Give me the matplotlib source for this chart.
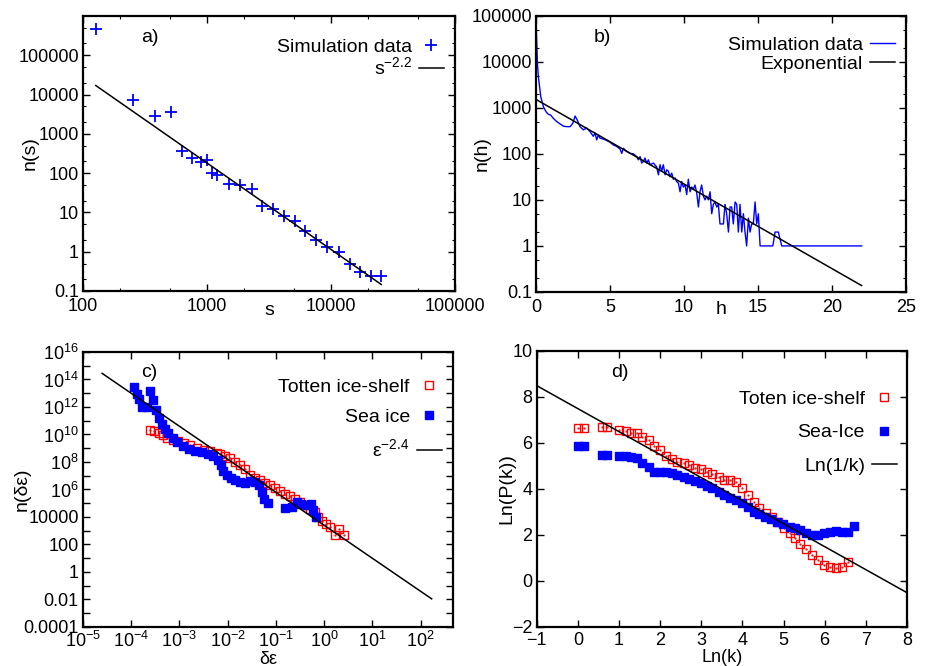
import numpy as np
import matplotlib
matplotlib.use("Agg")
import matplotlib.pyplot as plt
from matplotlib.ticker import LogLocator, FixedLocator, NullFormatter, FixedFormatter, MultipleLocator

plt.rcParams['font.family'] = ['Liberation Sans', 'DejaVu Sans']
plt.rcParams['mathtext.default'] = 'regular'
plt.rcParams['font.size'] = 13

# ---------------- Panel a data ----------------
a_s = [127, 254, 378, 508, 624, 760, 889, 1000, 1105, 1213, 1507, 1850, 2297, 2768,
       3385, 4155, 5100, 6200, 7600, 9300, 11500, 14100, 17000, 21000, 25300]
a_n = [457000, 7330, 2770, 3700, 365, 245, 190, 222, 102, 90, 53, 50, 39, 14.7,
       12, 8.3, 6.2, 3.3, 2.0, 1.3, 0.96, 0.49, 0.30, 0.24, 0.24]
a_fit_coef = 7.2e8
a_fit_exp = -2.2
a_fit_range = (127, 25400)

# ---------------- Panel b data ----------------
b_h = [0.0, 0.05, 0.09, 0.16, 0.32, 0.50, 0.68, 0.83, 0.99, 1.17, 1.40, 1.62, 1.85, 2.07,
       2.30, 2.48, 2.64, 2.79, 2.97, 3.20, 3.42, 3.65, 3.87, 3.99, 4.10, 4.21, 4.32, 4.55,
       4.77, 5.00, 5.23, 5.45, 5.68, 5.79, 5.90, 6.13, 6.35, 6.58, 6.80, 6.91, 7.03, 7.14,
       7.25, 7.36, 7.48, 7.59, 7.70, 7.93, 8.15, 8.27, 8.38, 8.49, 8.60, 8.72, 8.83, 8.94,
       9.05, 9.17, 9.28, 9.39, 9.50, 9.62, 9.73, 9.84, 9.95, 10.07, 10.18, 10.29, 10.41,
       10.52, 10.63, 10.74, 10.86, 10.97, 11.08, 11.19, 11.31, 11.42, 11.53, 11.64, 11.76,
       11.87, 11.98, 12.09, 12.21, 12.32, 12.43, 12.55, 12.66, 12.77, 12.88, 13.00, 13.11,
       13.22, 13.33, 13.45, 13.56, 13.67, 13.78, 13.90, 14.01, 14.12, 14.23, 14.35, 14.46,
       14.57, 14.68, 14.80, 14.91, 15.02, 15.14, 16.00, 16.15, 16.37, 16.60, 22.00]
b_n = [81000, 25100, 9330, 4680, 1740, 1050, 813, 724, 692, 589, 501, 447, 398, 389,
       389, 457, 661, 537, 389, 331, 363, 302, 240, 282, 200, 257, 219, 209,
       195, 178, 155, 145, 126, 102, 132, 112, 102, 100, 87, 74, 87, 63,
       68, 81, 63, 74, 58, 63, 52, 35, 58, 42, 58, 35, 45, 42,
       32, 38, 28, 30, 25, 23, 15, 25, 19, 21, 13, 28, 15,
       19, 17, 21, 14, 7, 15, 21, 12, 10, 12, 10, 15,
       5, 8, 9, 7, 8, 3, 3, 3, 8, 5, 2, 7,
       7, 3, 9, 8, 2, 8, 2, 5, 2, 1, 4, 2,
       3, 3, 9, 3, 5, 1, 1, 2, 2, 1, 1]
b_fit_amp = 1515
b_fit_rate = 0.423
b_fit_range = (0, 22)

# ---------------- Panel c data ----------------
c_sea_x = [1.17e-4, 1.32e-4, 1.48e-4, 1.70e-4, 2.14e-4, 2.45e-4, 2.82e-4, 3.31e-4, 3.72e-4,
           4.37e-4, 5.01e-4, 5.89e-4, 7.24e-4, 9.12e-4, 1.17e-3, 1.55e-3, 2.09e-3, 2.88e-3,
           3.98e-3, 5.01e-3, 6.17e-3, 7.24e-3, 8.13e-3, 9.55e-3, 1.15e-2, 1.41e-2, 1.82e-2,
           2.29e-2, 2.88e-2, 3.72e-2, 4.57e-2, 5.13e-2, 5.62e-2, 6.92e-2, 0.155, 0.214,
           0.269, 0.339, 0.437, 0.525, 0.589, 0.692]
c_sea_y = [2.8e13, 9.3e12, 3.5e12, 1.0e12, 1.0e12, 1.45e13, 3.1e12, 5.8e11, 1.7e11,
           6.2e10, 2.7e10, 1.2e10, 5.6e9, 2.8e9, 1.4e9, 9.3e8, 6.3e8, 5.4e8,
           4.1e8, 2.6e8, 1.3e8, 5.8e7, 2.2e7, 1.07e7, 7.4e6, 4.7e6, 3.5e6,
           2.95e6, 4.2e6, 3.5e6, 2.0e6, 6.6e5, 2.2e5, 1.05e5, 4.8e4, 5.4e4,
           1.23e5, 9.3e4, 7.1e4, 9.3e4, 3.1e4, 1.0e4]
c_tot_x = [2.45e-4, 3.02e-4, 3.72e-4, 4.57e-4, 5.62e-4, 7.24e-4, 9.55e-4, 1.26e-3, 1.66e-3,
           2.29e-3, 3.16e-3, 4.37e-3, 5.89e-3, 6.92e-3, 8.91e-3, 1.12e-2, 1.41e-2, 1.82e-2,
           2.29e-2, 2.88e-2, 3.72e-2, 4.68e-2, 5.89e-2, 7.59e-2, 9.55e-2, 0.123, 0.155,
           0.195, 0.251, 0.316, 0.398, 0.513, 0.646, 0.759, 0.891, 1.10, 1.35, 1.66, 2.04, 2.57]
c_tot_y = [2.3e10, 1.8e10, 1.3e10, 8.7e9, 5.9e9, 4.3e9, 3.2e9, 2.4e9, 1.6e9,
           1.1e9, 7.9e8, 6.0e8, 4.5e8, 4.1e8, 2.6e8, 1.8e8, 1.0e8, 5.8e7,
           3.3e7, 1.2e7, 7.4e6, 4.7e6, 3.2e6, 2.0e6, 1.29e6, 7.9e5, 5.0e5,
           3.2e5, 2.0e5, 1.23e5, 7.1e4, 4.1e4, 2.3e4, 1.0e4, 5.1e3, 2.95e3, 1.86e3,
           4.7e2, 1.45e3, 4.7e2]
c_fit_coef = 2500
c_fit_exp = -2.4
c_fit_range = (2.5e-5, 170)

# ---------------- Panel d data ----------------
d_tot_x = [0.01, 0.15, 0.58, 0.72, 1.00, 1.16, 1.29, 1.44, 1.57, 1.72, 1.86, 2.00, 2.14,
           2.28, 2.42, 2.57, 2.71, 2.85, 2.99, 3.13, 3.27, 3.42, 3.56, 3.70, 3.84, 3.98,
           4.13, 4.27, 4.41, 4.57, 4.72, 4.87, 5.01, 5.15, 5.27, 5.41, 5.55, 5.70, 5.84,
           5.98, 6.12, 6.28, 6.43, 6.56]
d_tot_y = [6.65, 6.65, 6.70, 6.70, 6.55, 6.52, 6.43, 6.41, 6.26, 6.12, 5.86, 5.68, 5.43,
           5.28, 5.17, 5.10, 5.03, 4.91, 4.84, 4.74, 4.64, 4.52, 4.38, 4.38, 4.30, 4.01,
           3.72, 3.43, 3.14, 2.96, 2.78, 2.57, 2.30, 2.06, 1.84, 1.60, 1.37, 1.10, 0.88,
           0.70, 0.58, 0.57, 0.58, 0.83]
d_sea_x = [0.01, 0.15, 0.58, 0.72, 1.00, 1.16, 1.29, 1.44, 1.57, 1.72, 1.86, 2.00, 2.14,
           2.28, 2.42, 2.57, 2.71, 2.85, 2.99, 3.13, 3.27, 3.42, 3.56, 3.70, 3.84, 3.98,
           4.13, 4.27, 4.41, 4.55, 4.70, 4.83, 4.99, 5.15, 5.27, 5.41, 5.55, 5.70, 5.84,
           5.98, 6.12, 6.28, 6.43, 6.56, 6.71]
d_sea_y = [5.86, 5.86, 5.46, 5.46, 5.42, 5.42, 5.36, 5.32, 5.13, 4.96, 4.74, 4.74, 4.71,
           4.67, 4.59, 4.49, 4.41, 4.35, 4.23, 4.12, 4.01, 3.87, 3.72, 3.58, 3.51, 3.36,
           3.19, 3.00, 2.90, 2.78, 2.68, 2.57, 2.46, 2.35, 2.28, 2.20, 2.06, 1.99, 1.99,
           2.06, 2.13, 2.16, 2.10, 2.10, 2.39]
d_fit_const = 7.48
d_fit_range = (-1, 8)

BLUE = '#0000ff'
RED = '#ff0000'

fig = plt.figure(figsize=(9.25, 6.66), dpi=100)
axa = fig.add_axes([0.0897, 0.5631, 0.4022, 0.4129])
axb = fig.add_axes([0.5795, 0.5616, 0.4000, 0.4149])
axc = fig.add_axes([0.0897, 0.0586, 0.4000, 0.4129])
axd = fig.add_axes([0.5802, 0.0590, 0.4003, 0.4145])


def style(ax, xpad):
    for sp in ax.spines.values():
        sp.set_linewidth(1.6)
    ax.tick_params(which='both', direction='in', top=True, right=True, labelsize=13, pad=3)
    ax.tick_params(axis='x', which='both', pad=xpad)
    ax.tick_params(which='major', length=5, width=1.0)
    ax.tick_params(which='minor', length=2.5, width=0.8)


def labels(ax, xl, yl, xy, yx, xfs=14):
    ax.set_xlabel(xl, fontsize=xfs)
    ax.set_ylabel(yl, fontsize=14)
    ax.xaxis.label.set_verticalalignment('center')
    ax.yaxis.label.set_verticalalignment('center')
    ax.xaxis.set_label_coords(0.5, xy)
    ax.yaxis.set_label_coords(yx, 0.5)


def leg(ax, spacing, anchor):
    lg = ax.legend(loc='upper right', bbox_to_anchor=anchor, frameon=False, markerfirst=False,
                   handlelength=1.3, handletextpad=0.35, labelspacing=spacing, fontsize=14,
                   borderaxespad=0.0, borderpad=0.0)
    return lg


# ---- a ----
ax = axa
ax.plot(a_s, a_n, linestyle='none', marker='+', ms=8, mew=1.3, color=BLUE, label='Simulation data')
xs = np.logspace(np.log10(a_fit_range[0]), np.log10(a_fit_range[1]), 50)
ax.plot(xs, a_fit_coef * xs ** a_fit_exp, color='black', lw=1.1, label='s$^{-2.2}$')
ax.set_xscale('log'); ax.set_yscale('log')
ax.set_xlim(100, 1e5); ax.set_ylim(0.1, 1e6)
ax.xaxis.set_major_locator(FixedLocator([100, 1000, 10000, 100000]))
ax.xaxis.set_major_formatter(FixedFormatter(['100', '1000', '10000', '100000']))
ax.xaxis.set_minor_locator(LogLocator(base=10, subs=(2, 5)))
ax.xaxis.set_minor_formatter(NullFormatter())
yt = [0.1, 1, 10, 100, 1000, 10000, 100000]
ax.yaxis.set_major_locator(FixedLocator(yt))
ax.yaxis.set_major_formatter(FixedFormatter(['0.1', '1', '10', '100', '1000', '10000', '100000']))
ax.yaxis.set_minor_locator(LogLocator(base=10, subs=(2, 5)))
ax.yaxis.set_minor_formatter(NullFormatter())
style(ax, 4.8)
labels(ax, 's', 'n(s)', -0.072, -0.1425)
ax.text(0.18, 0.92, 'a)', transform=ax.transAxes, fontsize=14, ha='center', va='center')
leg(ax, 0.05, (0.97, 0.92))

# ---- b ----
ax = axb
ax.plot(b_h, b_n, color=BLUE, lw=1.0, label='Simulation data')
hs = np.linspace(b_fit_range[0], b_fit_range[1], 50)
ax.plot(hs, b_fit_amp * np.exp(-b_fit_rate * hs), color='black', lw=1.1, label='Exponential')
ax.set_yscale('log')
ax.set_xlim(0, 25); ax.set_ylim(0.1, 1e5)
ax.xaxis.set_major_locator(MultipleLocator(5))
ax.yaxis.set_major_locator(FixedLocator(yt))
ax.yaxis.set_major_formatter(FixedFormatter(['0.1', '1', '10', '100', '1000', '10000', '100000']))
ax.yaxis.set_minor_locator(LogLocator(base=10, subs=(2, 5)))
ax.yaxis.set_minor_formatter(NullFormatter())
style(ax, 4.8)
labels(ax, 'h', 'n(h)', -0.065, -0.146)
ax.text(0.178, 0.92, 'b)', transform=ax.transAxes, fontsize=14, ha='center', va='center')
leg(ax, 0.05, (0.97, 0.925))

# ---- c ----
ax = axc
ax.plot(c_tot_x, c_tot_y, linestyle='none', marker='s', ms=5.5, mfc='none', mec=RED, mew=1.0,
        label='Totten ice-shelf')
ax.plot(c_tot_x, c_tot_y, linestyle='none', marker='.', ms=1.2, color=RED)
ax.plot(c_sea_x, c_sea_y, linestyle='none', marker='s', ms=5.5, color=BLUE, mec=BLUE, label='Sea ice')
xe = np.logspace(np.log10(c_fit_range[0]), np.log10(c_fit_range[1]), 50)
ax.plot(xe, c_fit_coef * xe ** c_fit_exp, color='black', lw=1.1, label='ε$^{-2.4}$')
ax.set_xscale('log'); ax.set_yscale('log')
ax.set_xlim(1e-5, 470); ax.set_ylim(1e-4, 1e16)
xtc = [1e-5, 1e-4, 1e-3, 1e-2, 1e-1, 1, 10, 100]
ax.xaxis.set_major_locator(FixedLocator(xtc))
ax.xaxis.set_major_formatter(FixedFormatter(['$10^{-5}$', '$10^{-4}$', '$10^{-3}$', '$10^{-2}$',
                                             '$10^{-1}$', '$10^{0}$', '$10^{1}$', '$10^{2}$']))
ax.xaxis.set_minor_locator(LogLocator(base=10, subs=(2, 5)))
ax.xaxis.set_minor_formatter(NullFormatter())
ytc = [1e-4, 1e-2, 1, 1e2, 1e4, 1e6, 1e8, 1e10, 1e12, 1e14, 1e16]
ax.yaxis.set_major_locator(FixedLocator(ytc))
ax.yaxis.set_major_formatter(FixedFormatter(['0.0001', '0.01', '1', '100', '10000', '$10^{6}$',
                                             '$10^{8}$', '$10^{10}$', '$10^{12}$', '$10^{14}$',
                                             '$10^{16}$']))
ax.yaxis.set_minor_locator(FixedLocator([1e-3, 1e-1, 10, 1e3, 1e5, 1e7, 1e9, 1e11, 1e13, 1e15]))
ax.yaxis.set_minor_formatter(NullFormatter())
style(ax, 3.0)
ax.tick_params(axis='y', which='minor', length=5, width=1.0)
labels(ax, 'δε', 'n(δε)', -0.117, -0.165, xfs=13)
ax.text(0.18, 0.924, 'c)', transform=ax.transAxes, fontsize=14, ha='center', va='center')
leg(ax, 0.65, (0.97, 0.905))

# ---- d ----
ax = axd
ax.plot(d_tot_x, d_tot_y, linestyle='none', marker='s', ms=5.5, mfc='none', mec=RED, mew=1.0,
        label='Toten ice-shelf')
ax.plot(d_tot_x, d_tot_y, linestyle='none', marker='.', ms=1.2, color=RED)
ax.plot(d_sea_x, d_sea_y, linestyle='none', marker='s', ms=5.5, color=BLUE, mec=BLUE, label='Sea-Ice')
xd = np.linspace(d_fit_range[0], d_fit_range[1], 20)
ax.plot(xd, d_fit_const - xd, color='black', lw=1.1, label='Ln(1/k)')
ax.set_xlim(-1, 8); ax.set_ylim(-2, 10)
ax.xaxis.set_major_locator(MultipleLocator(1))
ax.yaxis.set_major_locator(MultipleLocator(2))
style(ax, 4.0)
labels(ax, 'Ln(k)', 'Ln(P(k))', -0.11, -0.08, xfs=13)
ax.text(0.225, 0.92, 'd)', transform=ax.transAxes, fontsize=14, ha='center', va='center')
leg(ax, 0.8, (0.973, 0.855))

fig.savefig('out.png', dpi=100)
